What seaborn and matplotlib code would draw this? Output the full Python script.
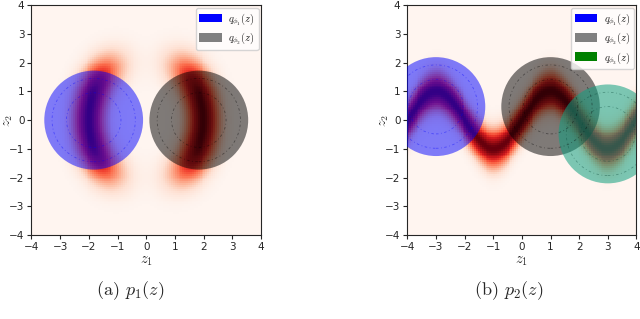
import numpy as np
import matplotlib
matplotlib.use("Agg")
import matplotlib.pyplot as plt
from matplotlib.patches import Circle, Patch
import seaborn as sns

sns.set_style("ticks")
plt.rcParams["mathtext.fontset"] = "cm"

# ---- data ----
ticks = [-4, -3, -2, -1, 0, 1, 2, 3, 4]
grid_n = 120
ring_radius = 2.0
ring_width = 0.47
bump_centers = [-2.0, 2.0]
bump_width = 0.7
wave_period = 4.0
wave_width = 0.45

p1_centers = [(-1.83, 0.0), (1.83, 0.0)]
p1_fill = ["blue", "black"]
p1_line = ["blue", "black"]
p1_labels = [r"$q_{\phi_1}(z)$", r"$q_{\phi_2}(z)$"]
p1_legend_colors = ["blue", "gray"]

p2_centers = [(-3.0, 0.47), (1.0, 0.47), (3.0, -0.48)]
p2_fill = ["blue", "black", "#10a080"]
p2_line = ["blue", "black", "#0a4a3a"]
p2_labels = [r"$q_{\phi_1}(z)$", r"$q_{\phi_2}(z)$", r"$q_{\phi_3}(z)$"]
p2_legend_colors = ["blue", "gray", "green"]

circle_radius = 1.72
inner_rings = [0.95, 1.45]
fill_alpha = [0.5, 0.5, 0.55]

captions = [r"(a) $p_1(z)$", r"(b) $p_2(z)$"]

# ---- densities ----
g = np.linspace(-4, 4, grid_n)
Z1, Z2 = np.meshgrid(g, g)
R = np.sqrt(Z1 ** 2 + Z2 ** 2)
U1 = 0.5 * ((R - ring_radius) / ring_width) ** 2 - np.log(
    sum(np.exp(-0.5 * ((Z1 - c) / bump_width) ** 2) for c in bump_centers))
D1 = np.exp(-U1)
W1 = np.sin(2 * np.pi * Z1 / wave_period)
U2 = 0.5 * ((Z2 - W1) / wave_width) ** 2
D2 = np.exp(-U2)

cmap = sns.color_palette("Reds", as_cmap=True)

fig = plt.figure(figsize=(6.4, 3.19), dpi=100)
ax1 = fig.add_axes([0.049, 0.263, 0.359, 0.721])
ax2 = fig.add_axes([0.6365, 0.263, 0.358, 0.721])


def draw(ax, D, centers, fills, lines, labels, legcolors, alphas):
    ax.imshow(D, extent=[-4, 4, -4, 4], origin="lower", cmap=cmap,
              interpolation="nearest", aspect="auto", vmin=0, vmax=D.max())
    for (cx, cy), fc, lc, a in zip(centers, fills, lines, alphas):
        ax.add_patch(Circle((cx, cy), circle_radius, facecolor=fc, alpha=a,
                            edgecolor="none", zorder=3))
        for r in inner_rings:
            ax.add_patch(Circle((cx, cy), r, facecolor="none", edgecolor=lc,
                                linestyle=(0, (3, 3, 1, 3)), linewidth=0.6,
                                alpha=0.4, zorder=4))
    ax.set_xlim(-4, 4)
    ax.set_ylim(-4, 4)
    ax.set_xticks(ticks)
    ax.set_yticks(ticks)
    ax.tick_params(labelsize=7.5, length=3, width=0.8, pad=2)
    ax.set_xlabel(r"$z_1$", fontsize=10.5, labelpad=1)
    ax.set_ylabel(r"$z_2$", fontsize=10)
    ax.yaxis.set_label_coords(-0.07, 0.5)
    for s in ax.spines.values():
        s.set_linewidth(0.8)
    handles = [Patch(facecolor=c, edgecolor="none") for c in legcolors]
    ax.legend(handles, labels, loc="upper right", fontsize=7.5,
              handlelength=2.2, handleheight=0.9, borderpad=0.35,
              labelspacing=0.4, handletextpad=0.6, framealpha=0.8,
              borderaxespad=0.25)


draw(ax1, D1, p1_centers, p1_fill, p1_line, p1_labels, p1_legend_colors, fill_alpha)
draw(ax2, D2, p2_centers, p2_fill, p2_line, p2_labels, p2_legend_colors, fill_alpha)

fig.text(0.203, 0.09, captions[0], ha="center", va="center", fontsize=13,
         family="cmr10")
fig.text(0.794, 0.09, captions[1], ha="center", va="center", fontsize=13,
         family="cmr10")

fig.savefig("out.png", dpi=100)
